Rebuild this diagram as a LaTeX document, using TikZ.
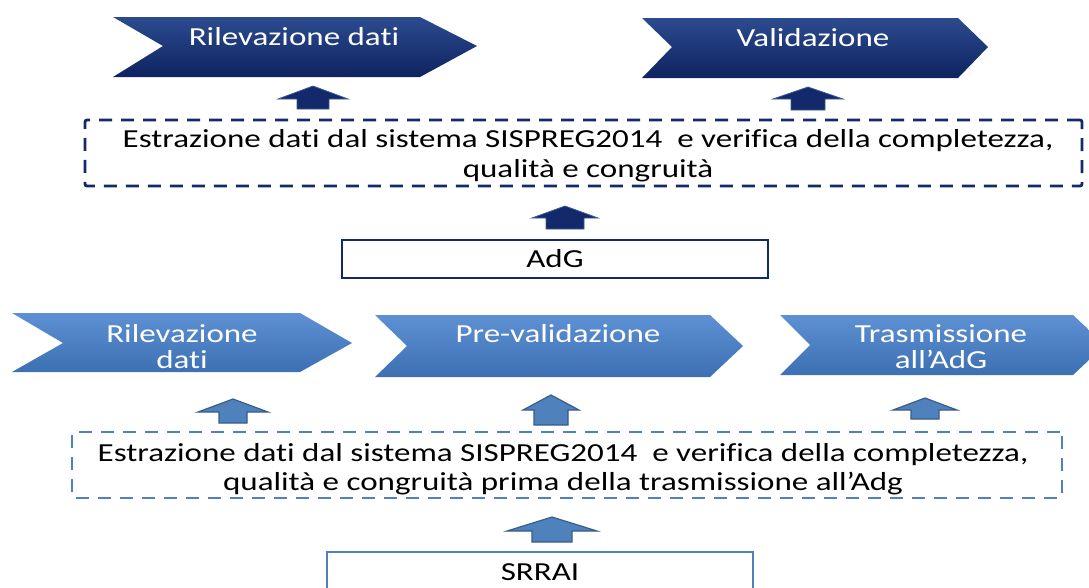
\documentclass[tikz,border=0pt]{standalone}
\usepackage{fontspec}
\usepackage{graphicx}
\setmainfont{Carlito}[Ligatures=NoCommon]
\definecolor{navy}{HTML}{13296B}
\definecolor{navytop}{HTML}{2C4B8F}
\definecolor{navybot}{HTML}{0E2360}
\definecolor{navyedge}{HTML}{3A5A95}
\definecolor{lblue}{HTML}{4F81BD}
\definecolor{lbluetop}{HTML}{5E91D3}
\definecolor{lbluebot}{HTML}{3D70B2}
\definecolor{lbedge}{HTML}{385D8A}
\newcommand\sx[1]{\scalebox{1.27}[1]{\begin{tabular}[t]{@{}c@{}}#1\end{tabular}}}
\tikzset{
  darkchev/.style={top color=navytop, bottom color=navybot, draw=none},
  lightchev/.style={top color=lbluetop, bottom color=lbluebot, draw=none},
  chevtxt/.style={text=white, font=\fontsize{26}{26.5}\selectfont, inner sep=0pt, anchor=base},
  darkarr/.style={fill=navy, draw=navyedge, line width=0.8pt},
  lightarr/.style={fill=lblue, draw=lbedge, line width=1.2pt},
  dashnavy/.style={draw=navy, line width=2.8pt, dash pattern=on 13pt off 9pt, rounded corners=2pt, inner sep=0pt},
  dashlight/.style={draw=lblue, line width=2.4pt, dash pattern=on 13pt off 9pt, rounded corners=2pt, inner sep=0pt},
  boxtxt/.style={text=black, font=\fontsize{26}{30}\selectfont, inner sep=0pt, anchor=base},
  solidnavy/.style={draw=navy, line width=2pt, fill=white, inner sep=0pt},
  solidlight/.style={draw=lblue, line width=2.6pt, fill=white, inner sep=0pt},
}
% #1 center x, #2 tip y, #3 head base y, #4 bottom y, #5 head half width, #6 shaft half width, #7 style
\newcommand\blockup[7]{%
  \path[#7] (#1,#2) -- (#1+#5,#3) -- (#1+#6,#3) -- (#1+#6,#4) -- (#1-#6,#4) -- (#1-#6,#3) -- (#1-#5,#3) -- cycle;}
\begin{document}
\begin{tikzpicture}[x=1pt,y=-1pt]
\useasboundingbox (0,0) rectangle (1089,587);
\fill[white] (0,0) rectangle (1089,587);

% top chevrons
\path[darkchev] (113,17) -- (420,17) -- (477,46) -- (420,77) -- (113,77) -- (163,46) -- cycle;
\node[chevtxt] (rilev1) at (294,45) {\sx{Rilevazione dati}};
\path[darkchev] (642,18) -- (958,18) -- (988,47) -- (958,78) -- (642,78) -- (672,47) -- cycle;
\node[chevtxt] (valid) at (813,46) {\sx{Validazione}};

% top arrows
\blockup{313}{86}{99}{109}{35}{16}{darkarr}
\blockup{808}{87}{99}{110}{35}{17}{darkarr}

% top dashed box
\node[dashnavy, minimum width=997pt, minimum height=66pt] (box1) at (583.5,153) {};
\node[boxtxt] (box1t) at (588,147) {\sx{Estrazione dati dal sistema SISPREG2014~ e verifica della completezza,\\qualità e congruità}};

\blockup{565}{206}{218}{229}{33}{19}{darkarr}

% AdG
\node[solidnavy, minimum width=426pt, minimum height=38pt] (adg) at (555,259) {};
\node[boxtxt] (adgt) at (555,267) {\sx{AdG}};

% lower chevrons
\path[lightchev] (12,313) -- (300,313) -- (352,343) -- (300,372) -- (12,372) -- (63,343) -- cycle;
\node[chevtxt] (rilev2) at (182,342) {\sx{Rilevazione\\dati}};
\path[lightchev] (375,315) -- (710,315) -- (743,346) -- (710,377) -- (375,377) -- (407,346) -- cycle;
\node[chevtxt] (preval) at (558,342) {\sx{Pre-validazione}};
\path[lightchev] (780,315) -- (1073,315) -- (1105,345) -- (1073,375) -- (780,375) -- (810,345) -- cycle;
\node[chevtxt] (trasm) at (941,342) {\sx{Trasmissione\\all’AdG}};

% lower arrows
\blockup{233}{399}{412}{423}{35}{14}{lightarr}
\blockup{551}{395}{410}{425}{28}{17}{lightarr}
\blockup{925}{398}{410}{419}{32}{14}{lightarr}

% lower dashed box
\node[dashlight, minimum width=990pt, minimum height=66pt] (box2) at (567,465) {};
\node[boxtxt, font=\fontsize{26}{29.5}\selectfont] (box2t) at (563,461) {\sx{Estrazione dati dal sistema SISPREG2014~ e verifica della completezza,\\qualità e congruità prima della trasmissione all’Adg}};

\blockup{552}{517}{531}{542}{45}{20}{lightarr}

% SRRAI
\path[solidlight] (327,600) -- (327,552) -- (753,552) -- (753,600);
\node[boxtxt] (srrai) at (540,580) {\sx{SRRAI}};
\end{tikzpicture}
\end{document}
